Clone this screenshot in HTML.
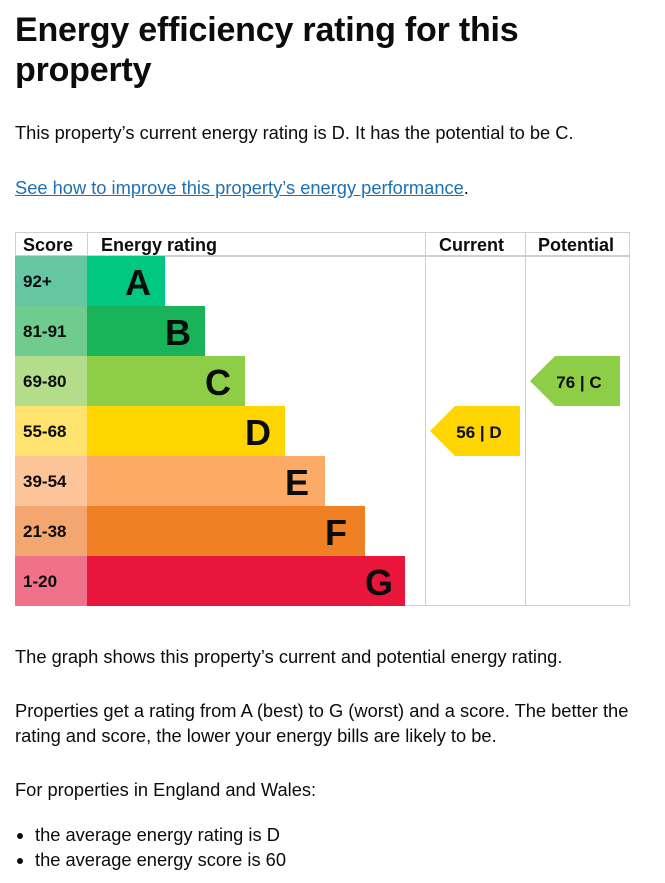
<!DOCTYPE html>
<html><head><meta charset="utf-8"><style>
body{margin:0;background:#fff;font-family:"Liberation Sans",Arial,sans-serif;color:#0b0c0c;width:665px;height:883px;overflow:hidden;position:relative}
.t{position:absolute;left:15px;margin:0;white-space:nowrap}
h1{position:absolute;left:15px;top:10px;margin:0;font-size:34px;line-height:40px;font-weight:bold;letter-spacing:-0.2px}
p{font-size:18.3px;line-height:25px}
a{color:#1d70b8;text-decoration:underline}
ul{position:absolute;left:15px;top:822px;margin:0;padding-left:20px;font-size:18.3px;line-height:25px}
</style></head><body>
<h1>Energy efficiency rating for this<br>property</h1>
<p class="t" style="top:120px">This property’s current energy rating is D. It has the potential to be C.</p>
<p class="t" style="top:175px"><a>See how to improve this property’s energy performance</a>.</p>
<svg style="position:absolute;left:0;top:0" width="665" height="620" font-family="Liberation Sans,Arial,sans-serif">
<rect x="15.5" y="232.5" width="614" height="373" fill="none" stroke="#cfcfcf"/>
<line x1="15" y1="256" x2="630" y2="256" stroke="#cfcfcf" stroke-width="2"/>
<line x1="425.5" y1="232" x2="425.5" y2="606" stroke="#cfcfcf"/>
<line x1="525.5" y1="232" x2="525.5" y2="606" stroke="#cfcfcf"/>
<line x1="87.5" y1="232" x2="87.5" y2="256" stroke="#cfcfcf"/>
<g font-weight="bold" font-size="18" fill="#0b0c0c">
<text x="23" y="251">Score</text><text x="101" y="251">Energy rating</text>
<text x="439" y="251">Current</text><text x="538" y="251">Potential</text>
</g>
<g font-weight="bold">
<rect x="15" y="256" width="72" height="50" fill="#64c6a3"/><rect x="87" y="256" width="78" height="50" fill="#00c781"/>
<rect x="15" y="306" width="72" height="50" fill="#6fcb8e"/><rect x="87" y="306" width="118" height="50" fill="#19b459"/>
<rect x="15" y="356" width="72" height="50" fill="#b3dd88"/><rect x="87" y="356" width="158" height="50" fill="#8dce46"/>
<rect x="15" y="406" width="72" height="50" fill="#ffe36e"/><rect x="87" y="406" width="198" height="50" fill="#ffd500"/>
<rect x="15" y="456" width="72" height="50" fill="#fdc49a"/><rect x="87" y="456" width="238" height="50" fill="#fcaa65"/>
<rect x="15" y="506" width="72" height="50" fill="#f4a670"/><rect x="87" y="506" width="278" height="50" fill="#ef8023"/>
<rect x="15" y="556" width="72" height="50" fill="#f0728a"/><rect x="87" y="556" width="318" height="50" fill="#e9153b"/>
<g font-size="17" fill="#0b0c0c">
<text x="23" y="287">92+</text><text x="23" y="337">81-91</text><text x="23" y="387">69-80</text>
<text x="23" y="437">55-68</text><text x="23" y="487">39-54</text><text x="23" y="537">21-38</text><text x="23" y="587">1-20</text>
</g>
<g font-size="36" fill="#0b0c0c" text-anchor="end">
<text x="151" y="295">A</text><text x="191" y="345">B</text><text x="231" y="395">C</text>
<text x="271" y="445">D</text><text x="309" y="495">E</text><text x="347" y="545">F</text><text x="393" y="595">G</text>
</g>
<polygon points="430,431 455,406 520,406 520,456 455,456" fill="#ffd500"/>
<text x="479" y="438" font-size="17" text-anchor="middle" fill="#0b0c0c">56 | D</text>
<polygon points="530,381 555,356 620,356 620,406 555,406" fill="#8dce46"/>
<text x="579" y="388" font-size="17" text-anchor="middle" fill="#0b0c0c">76 | C</text>
</g>
</svg>
<p class="t" style="top:644px">The graph shows this property’s current and potential energy rating.</p>
<p class="t" style="top:698px">Properties get a rating from A (best) to G (worst) and a score. The better the<br>rating and score, the lower your energy bills are likely to be.</p>
<p class="t" style="top:777px">For properties in England and Wales:</p>
<ul><li>the average energy rating is D</li><li>the average energy score is 60</li></ul>
</body></html>
